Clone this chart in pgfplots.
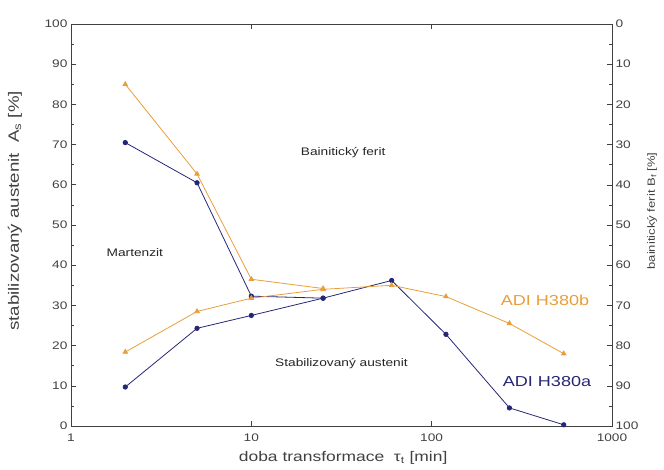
\documentclass[border=0pt]{standalone}
\usepackage{pgfplots}
\pgfplotsset{compat=1.18}
\usepackage{fontspec}
\setmainfont{Liberation Sans}[FakeStretch=1.25]

\definecolor{navyline}{RGB}{38,38,118}
\definecolor{ochre}{RGB}{232,158,58}
\definecolor{textgray}{RGB}{65,65,65}

\begin{document}
\begin{tikzpicture}[font=\fontsize{11}{13}\selectfont]
% ADI H380a / H380b: stabilised austenite (lower branch) and 100 - bainitic ferrite (upper branch)
\begin{axis}[
  scale only axis,
  width=541bp, height=402bp,
  xmode=log, log basis x=10,
  xmin=1, xmax=1000, ymin=0, ymax=100,
  xtick={1,10,100,1000}, xticklabels={1,10,100,1000},
  ytick={0,10,...,100},
  minor ytick={5,15,...,95},
  tick align=inside,
  ytick pos=left, xtick pos=both,
  major tick length=5bp, minor tick length=3bp,
  axis line style={black!75, line width=0.8pt},
  every tick/.style={black!75, line width=0.6pt},
  tick label style={textgray},
  xticklabel style={yshift=-4bp},
  /pgf/number format/assume math mode=true,
  xlabel={doba transformace\ \ τ\textsubscript{t} [min]},
  ylabel={stabilizovaný austenit\ \ A\textsubscript{s} [\%]},
  xlabel style={textgray, font=\fontsize{14}{16}\selectfont,
    at={(axis description cs:0.503,-0.08)}, anchor=center},
  ylabel style={textgray, font=\fontsize{15}{17}\selectfont,
    at={(axis description cs:-0.1035,0.535)}, anchor=center},
  clip=false,
]
% ADI H380a
\addplot[navyline, line width=0.8pt, mark=*, mark size=2.2pt] coordinates {
  (2,70.5) (5,60.5) (10,32.3) (25,31.8)
};
\addplot[navyline, line width=0.8pt, mark=*, mark size=2.2pt] coordinates {
  (2,9.7) (5,24.3) (10,27.5) (25,31.8) (60,36.2) (120,22.8) (270,4.5) (540,0.3)
};
% ADI H380b
\addplot[ochre, line width=0.8pt, mark=triangle*, mark size=2.6pt] coordinates {
  (2,85) (5,62.7) (10,36.5) (25,34.2)
};
\addplot[ochre, line width=0.8pt, mark=triangle*, mark size=2.6pt] coordinates {
  (2,18.4) (5,28.5) (10,31.8) (25,34.0) (60,35.0) (120,32.2) (270,25.5) (540,18)
};
% phase regions
\node[black!85] at (axis cs:32.3,68.1) {Bainitický ferit};
\node[black!85] at (axis cs:2.26,43.2) {Martenzit};
\node[black!85] at (axis cs:31.6,15.6) {Stabilizovaný austenit};
% series names
\node[font=\fontsize{14.5}{16}\selectfont, ochre] at (axis cs:425,31.3) {ADI H380b};
\node[font=\fontsize{14.5}{16}\selectfont, navyline] at (axis cs:436,11.0) {ADI H380a};
% page margins around the axis box
\path (rel axis cs:0,0) ++(-71bp,-44bp) coordinate (pageSW);
\path (rel axis cs:1,1) ++(52bp,24bp) coordinate (pageNE);
\path (pageSW) (pageNE);
\end{axis}
% reversed scale for bainitic ferrite
\begin{axis}[
  scale only axis,
  width=541bp, height=402bp,
  xmode=log, xmin=1, xmax=1000,
  ymin=0, ymax=100, y dir=reverse,
  hide x axis,
  axis y line*=right,
  ytick={0,10,...,100},
  minor ytick={5,15,...,95},
  tick align=inside,
  major tick length=5bp, minor tick length=3bp,
  axis line style={black!75, line width=0.8pt},
  every tick/.style={black!75, line width=0.6pt},
  tick label style={textgray},
  /pgf/number format/assume math mode=true,
  ylabel={bainitický ferit B\textsubscript{f} [\%]},
  ylabel style={textgray, font=\fontsize{10.5}{12}\selectfont,
    at={(axis description cs:1.074,0.535)}, anchor=center},
]
\end{axis}
\end{tikzpicture}
\end{document}
